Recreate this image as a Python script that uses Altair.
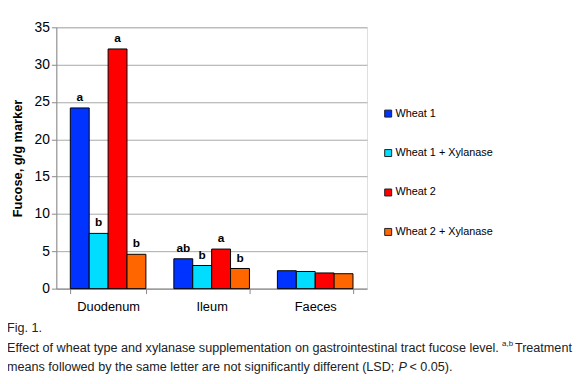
import altair as alt
import pandas as pd

sites = ["Duodenum", "Ileum", "Faeces"]
treatments = ["Wheat 1", "Wheat 1 + Xylanase", "Wheat 2", "Wheat 2 + Xylanase"]
colors = ["#0033FF", "#00DDFF", "#FF0000", "#FF6600"]

duodenum = [24.2, 7.4, 32.1, 4.6]
ileum = [4.0, 3.1, 5.3, 2.7]
faeces = [2.4, 2.3, 2.1, 2.0]

duodenum_letters = ["a", "b", "a", "b"]
ileum_letters = ["ab", "b", "a", "b"]
faeces_letters = ["", "", "", ""]

y_ticks = [0, 5, 10, 15, 20, 25, 30, 35]
y_title = "Fucose, g/g marker"
caption_1 = "Fig. 1."
caption_2a = "Effect of wheat type and xylanase supplementation on gastrointestinal tract fucose level."
caption_sup = "a,b"
caption_2b = "Treatment"
caption_3a = "means followed by the same letter are not significantly different (LSD;"
caption_3p = "P"
caption_3b = "< 0.05)."

rows = []
for site, vals, lets in zip(sites, [duodenum, ileum, faeces],
                            [duodenum_letters, ileum_letters, faeces_letters]):
    for t, v, l in zip(treatments, vals, lets):
        rows.append({"site": site, "treatment": t, "value": v, "letter": l})
df = pd.DataFrame(rows)

x_enc = alt.X("site:N", sort=sites, title=None,
              scale=alt.Scale(paddingInner=0.27, paddingOuter=0.135),
              axis=alt.Axis(labelAngle=0, labelFontSize=13, labelColor="black",
                            labelFont="Liberation Sans", labelPadding=7,
                            tickBand="extent", tickSize=5, tickColor="#888",
                            domainColor="#888", grid=False))
xoff = alt.XOffset("treatment:N", sort=treatments,
                   scale=alt.Scale(paddingInner=0, paddingOuter=0))
y_enc = alt.Y("value:Q", title=y_title,
              scale=alt.Scale(domain=[0, 35], nice=False),
              axis=alt.Axis(values=y_ticks, labelFontSize=14,
                            labelOverlap=False, labelFlush=False,
                            labelColor="black", labelFont="Liberation Sans",
                            titleFont="Liberation Sans", titleFontSize=13,
                            titleFontWeight="bold", titleColor="black",
                            titlePadding=10, tickSize=5, tickColor="#888",
                            domainColor="#888", gridColor="#a8a8a8"))

bars = alt.Chart(df).mark_bar(stroke="black", strokeWidth=1).encode(
    x=x_enc,
    xOffset=xoff,
    y=y_enc,
    color=alt.Color("treatment:N", sort=treatments,
                    scale=alt.Scale(domain=treatments, range=colors),
                    legend=alt.Legend(orient="none", legendX=331, legendY=82,
                                      title=None, symbolType="square",
                                      symbolSize=50, symbolStrokeColor="#222",
                                      symbolStrokeWidth=1, labelFontSize=11,
                                      labelFont="Liberation Sans",
                                      labelColor="black", rowPadding=27,
                                      labelOffset=2)),
)

letters = alt.Chart(df).mark_text(fontWeight="bold", fontSize=12,
                                  font="Liberation Sans", baseline="middle",
                                  dy=-11, color="black").encode(
    x=x_enc,
    xOffset=xoff,
    y=y_enc,
    text="letter:N",
)

def cap(text, x, y, size=12.8, style="normal"):
    d = pd.DataFrame({"t": [text]})
    return alt.Chart(d).mark_text(align="left", baseline="middle", fontSize=size,
                                  fontStyle=style,
                                  font="Liberation Sans", color="#222").encode(
        x=alt.value(x), y=alt.value(y), text="t:N")

chart = alt.layer(
    bars, letters,
    cap(caption_1, -50, 305),
    cap(caption_2a, -50, 325),
    cap(caption_sup, 452, 321, size=8),
    cap(caption_2b, 465, 325),
    cap(caption_3a, -50, 345),
    cap(caption_3p, 347, 345, style="italic"),
    cap(caption_3b, 358, 345),
).properties(
    width=315, height=265,
    autosize=alt.AutoSizeParams(type="none"),
    padding={"left": 49, "top": 17, "right": 215, "bottom": 86},
).configure_view(stroke="#999").configure(background="white")

chart.save("out.html", embed_options={"renderer": "svg", "actions": False})
